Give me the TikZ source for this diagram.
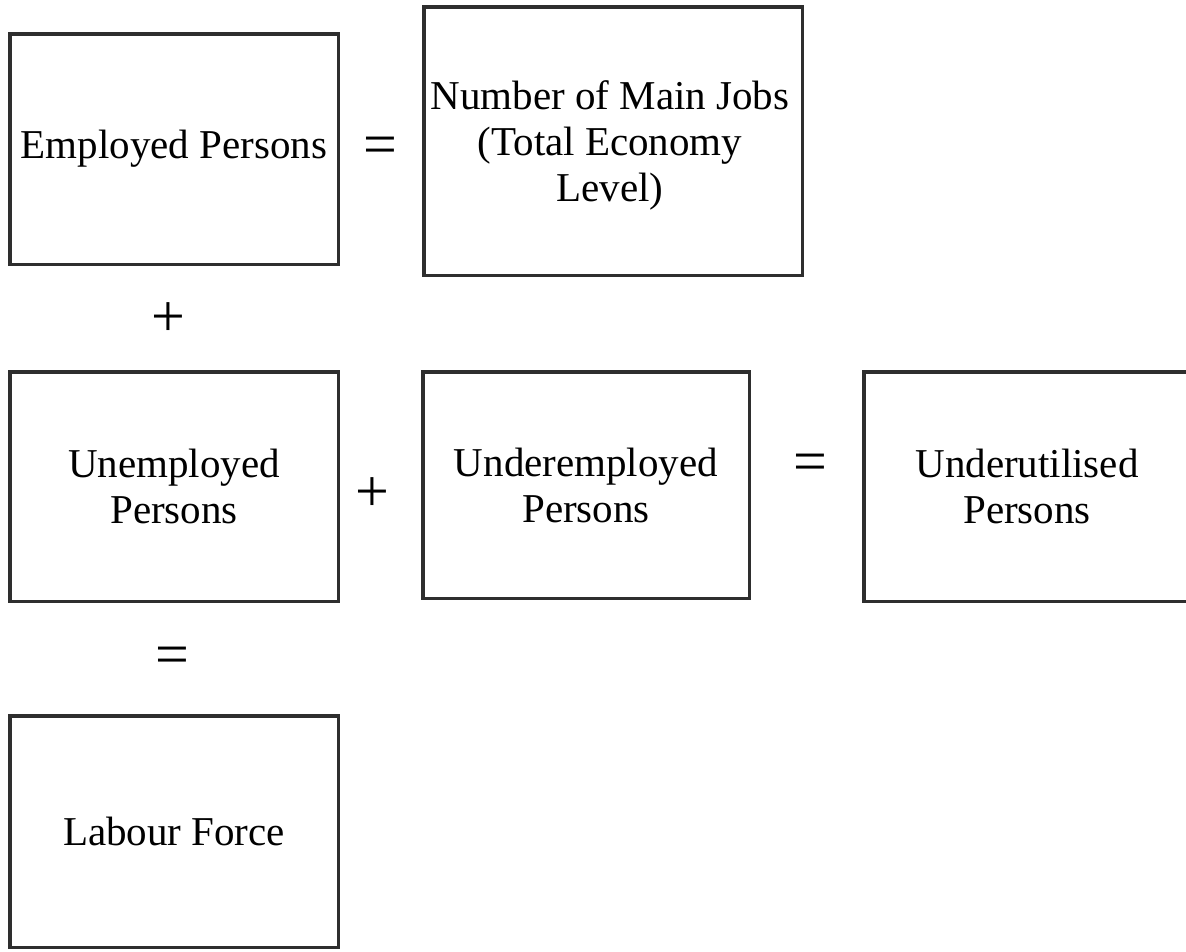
\documentclass[tikz,border=0pt]{standalone}
\usepackage{fontspec}
\setmainfont{Liberation Serif}
\begin{document}
\begin{tikzpicture}[x=1pt,y=-1pt,
  box/.style={draw=black!82, line width=3.5pt, fill=white, align=center, inner sep=0pt,
    font=\fontsize{41}{46}\selectfont},
  op/.style={font=\fontsize{60}{60}\selectfont, inner sep=0pt}]
\useasboundingbox (0,0) rectangle (1186,951);
\clip (0,0) rectangle (1186,951);
\node[box, minimum width=328.5pt, minimum height=230.5pt] (emp) at (174,149) {Employed Persons};
\node[box, minimum width=378.5pt, minimum height=268.5pt] (jobs) at (613,141) {};
\node[align=center, inner sep=0pt, font=\fontsize{41}{46}\selectfont] (jobstxt) at (610,145) {Number of Main Jobs\\(Total Economy\\Level)};
\node[box, minimum width=328.5pt, minimum height=229.5pt] (unemp) at (174,486.5) {Unemployed\\Persons};
\node[box, minimum width=326.5pt, minimum height=226.5pt] (under) at (586,485) {Underemployed\\Persons};
\node[box, minimum width=326.5pt, minimum height=229.5pt] (util) at (1027,486.5) {Underutilised\\Persons};
\node[box, minimum width=328.5pt, minimum height=231.5pt] (lab) at (174,831.5) {Labour Force};
\node[op] (eq1) at (380,151) {=};
\node[op] (pl1) at (168,320) {+};
\node[op] (pl2) at (372,495) {+};
\node[op] (eq2) at (810,468) {=};
\node[op] (eq3) at (172,661) {=};
\end{tikzpicture}
\end{document}
